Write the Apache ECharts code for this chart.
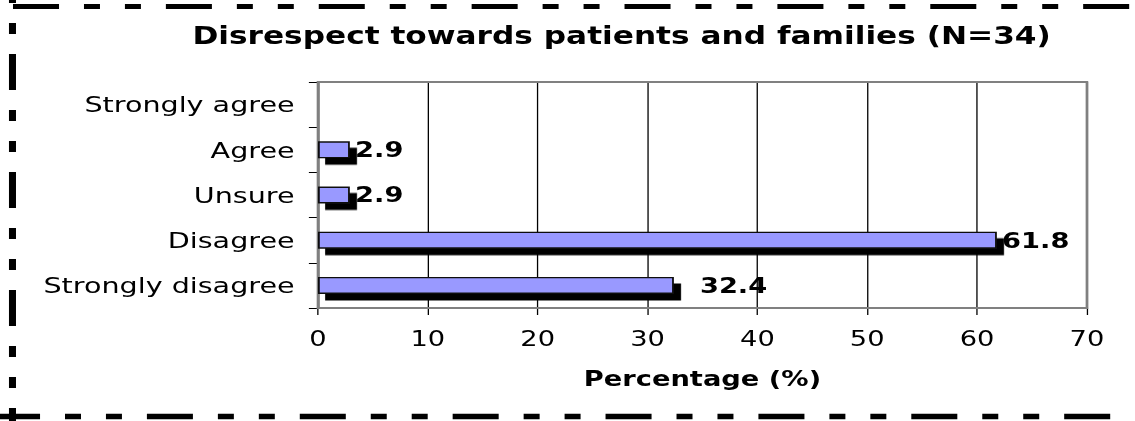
<!DOCTYPE html>
<html>
<head>
<meta charset="utf-8">
<script src="https://cdn.jsdelivr.net/npm/echarts@6/dist/echarts.min.js"></script>
<style>
  html, body { margin: 0; padding: 0; background: #fff; overflow: hidden; }
  /* the chart is laid out on a narrower canvas and stretched horizontally */
  #chart { width: 873px; height: 421px; transform: scaleX(1.3); transform-origin: 0 0; }
</style>
</head>
<body>
<div id="chart"></div>
<script>
// Survey answers, top to bottom
const categories = ['Strongly agree', 'Agree', 'Unsure', 'Disagree', 'Strongly disagree'];
// Share of respondents (%)
const percentages = [0, 2.9, 2.9, 61.8, 32.4];
// Percentage axis ticks
const xTicks = [0, 10, 20, 30, 40, 50, 60, 70];

const FONT = 'DejaVu Sans';
const W = 873, H = 421;

// extra gap between a bar end and its value label
const labelGap = { 'Strongly disagree': 20 };

const barData = percentages.map((v, i) => {
  const item = { value: v, label: { distance: labelGap[categories[i]] || 4 } };
  if (v === 0) {
    item.itemStyle = { borderWidth: 0, shadowColor: 'transparent' };
    item.label = { show: false };
  }
  return item;
});

// dash-dot-dot frame around the whole chart
const dashH = [35.4, 19.2, 12.3, 19.2, 12.3, 19.2];
const dashV = [36, 20, 11, 20, 11, 20];
function frameLine(x1, y1, x2, y2, dash, w) {
  return {
    type: 'line', silent: true, z: 100,
    shape: { x1, y1, x2, y2 },
    style: { stroke: '#000', lineWidth: w, lineDash: dash, lineCap: 'butt' }
  };
}

const chart = echarts.init(document.getElementById('chart'), null, { renderer: 'svg', width: W, height: H });

chart.setOption({
  animation: false,
  backgroundColor: '#fff',
  textStyle: { fontFamily: FONT },
  title: {
    text: 'Disrespect towards patients and families (N=34)',
    left: 148, top: 24, padding: 0,
    textStyle: { fontFamily: FONT, fontSize: 24, fontWeight: 'bold', color: '#000' }
  },
  grid: {
    left: 244.6, right: 36.9, top: 82, bottom: 113,
    show: true, borderColor: '#808080', borderWidth: 2,
    backgroundColor: 'transparent', z: 1,
    outerBoundsMode: 'none'
  },
  xAxis: {
    type: 'value',
    min: xTicks[0], max: xTicks[xTicks.length - 1], interval: xTicks[1] - xTicks[0],
    name: 'Percentage (%)', nameLocation: 'middle', nameGap: 60,
    nameTextStyle: { fontFamily: FONT, fontSize: 21, fontWeight: 'bold', color: '#000' },
    axisLine: { show: true, lineStyle: { color: '#808080', width: 2 } },
    axisTick: { show: true, length: 7, lineStyle: { color: '#000', width: 1 } },
    axisLabel: { fontFamily: FONT, fontSize: 21, color: '#000', margin: 20 },
    splitLine: { show: true, lineStyle: { color: '#000', width: 1 } }
  },
  yAxis: {
    type: 'category',
    data: categories,
    inverse: true,
    axisLine: { show: true, lineStyle: { color: '#808080', width: 2 } },
    axisTick: { show: true, length: 7, lineStyle: { color: '#000', width: 1 } },
    axisLabel: { fontFamily: FONT, fontSize: 22, color: '#000', margin: 18 },
    splitLine: { show: false }
  },
  series: [{
    type: 'bar',
    data: barData,
    barWidth: 17,
    itemStyle: {
      color: '#9999ff', borderColor: '#111', borderWidth: 1.4,
      shadowColor: '#000', shadowBlur: 0, shadowOffsetX: 5.5, shadowOffsetY: 6.5
    },
    label: {
      show: true, position: 'right',
      fontFamily: FONT, fontSize: 21, fontWeight: 'bold', color: '#000',
      formatter: p => p.value.toFixed(1)
    },
    z: 2
  }],
  graphic: [
    frameLine(10, 6.5, 890, 6.5, dashH, 5),
    frameLine(-4.6, 416.5, 890, 416.5, dashH, 5.5),
    frameLine(9.6, 444, 9.6, 0, dashV, 5.4),
    frameLine(876, -35, 876, 430, dashV, 5.4)
  ]
});
</script>
</body>
</html>
